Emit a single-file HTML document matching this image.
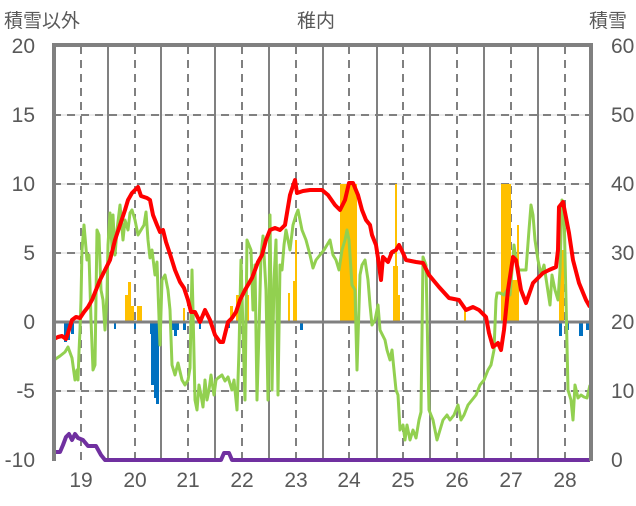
<!DOCTYPE html>
<html><head><meta charset="utf-8"><style>
body{margin:0;background:#fff;}
svg text{font-family:"Liberation Sans","Noto Sans CJK JP",sans-serif;fill:#595959;}
</style></head><body>
<svg width="636" height="501" viewBox="0 0 636 501" xmlns="http://www.w3.org/2000/svg">
<text x="4" y="27" font-size="19">積雪以外</text>
<text x="297" y="27" font-size="19">稚内</text>
<text x="589" y="27" font-size="19">積雪</text>
<g font-size="21" text-anchor="end">
<text x="35" y="53">20</text><text x="35" y="122">15</text><text x="35" y="191">10</text>
<text x="35" y="260">5</text><text x="35" y="329">0</text><text x="35" y="398">-5</text><text x="35" y="467">-10</text>
</g>
<g font-size="21" text-anchor="start">
<text x="611" y="53">60</text><text x="611" y="122">50</text><text x="611" y="191">40</text>
<text x="611" y="260">30</text><text x="611" y="329">20</text><text x="611" y="398">10</text><text x="611" y="467">0</text>
</g>
<g font-size="21" text-anchor="middle">
<text x="81" y="487">19</text><text x="135" y="487">20</text><text x="188" y="487">21</text><text x="242" y="487">22</text><text x="296" y="487">23</text>
<text x="349" y="487">24</text><text x="403" y="487">25</text><text x="457" y="487">26</text><text x="511" y="487">27</text><text x="565" y="487">28</text>
</g>
<g stroke="#d9d9d9" stroke-width="1">
<line x1="53" y1="115" x2="590" y2="115"/><line x1="53" y1="184" x2="590" y2="184"/><line x1="53" y1="253" x2="590" y2="253"/><line x1="53" y1="391" x2="590" y2="391"/>
</g>
<g stroke="#808080" stroke-width="2" stroke-dasharray="8,6">
<line x1="53" y1="115" x2="590" y2="115"/><line x1="53" y1="184" x2="590" y2="184"/><line x1="53" y1="253" x2="590" y2="253"/><line x1="53" y1="391" x2="590" y2="391"/>
<line x1="81" y1="46" x2="81" y2="460"/><line x1="135" y1="46" x2="135" y2="460"/><line x1="188" y1="46" x2="188" y2="460"/><line x1="242" y1="46" x2="242" y2="460"/><line x1="296" y1="46" x2="296" y2="460"/>
<line x1="349" y1="46" x2="349" y2="460"/><line x1="403" y1="46" x2="403" y2="460"/><line x1="457" y1="46" x2="457" y2="460"/><line x1="511" y1="46" x2="511" y2="460"/><line x1="565" y1="46" x2="565" y2="460"/>
</g>
<g stroke="#808080" stroke-width="2">
<line x1="108" y1="46" x2="108" y2="460"/><line x1="161" y1="46" x2="161" y2="460"/><line x1="215" y1="46" x2="215" y2="460"/><line x1="269" y1="46" x2="269" y2="460"/><line x1="323" y1="46" x2="323" y2="460"/>
<line x1="377" y1="46" x2="377" y2="460"/><line x1="430" y1="46" x2="430" y2="460"/><line x1="484" y1="46" x2="484" y2="460"/><line x1="538" y1="46" x2="538" y2="460"/>
</g>
<g fill="#ffc000">
<rect x="125" y="295" width="3" height="27"/><rect x="128" y="282" width="3" height="40"/><rect x="131" y="306" width="3" height="16"/>
<rect x="137" y="306" width="5" height="16"/><rect x="183" y="308" width="2" height="14"/>
<rect x="230" y="306" width="3" height="16"/><rect x="236" y="295" width="3" height="27"/><rect x="239" y="280" width="2" height="42"/><rect x="246" y="295" width="3" height="27"/>
<rect x="288" y="293" width="2" height="29"/><rect x="293" y="281" width="3" height="41"/><rect x="295" y="240" width="2" height="82"/>
<rect x="340" y="184" width="17" height="138"/><rect x="395" y="184" width="2" height="138"/><rect x="393" y="266" width="5" height="56"/><rect x="398" y="295" width="2" height="27"/>
<rect x="464" y="310" width="2" height="12"/>
<rect x="501" y="184" width="10" height="138"/><rect x="511" y="280" width="8" height="42"/><rect x="517" y="225" width="2" height="97"/>
<rect x="559" y="250" width="5" height="72"/>
</g>
<g fill="#0070c0">
<rect x="64" y="322" width="3" height="20"/><rect x="67" y="322" width="3" height="18"/><rect x="71" y="322" width="3" height="12"/><rect x="79" y="322" width="2" height="8"/>
<rect x="114" y="322" width="2" height="7"/><rect x="134" y="322" width="2" height="7"/>
<rect x="150" y="322" width="3" height="12"/><rect x="151" y="322" width="3" height="63"/><rect x="154" y="322" width="3" height="76"/><rect x="156" y="322" width="3" height="82"/><rect x="159" y="322" width="2" height="10"/>
<rect x="170" y="322" width="4" height="8"/><rect x="174" y="322" width="3" height="14"/><rect x="177" y="322" width="2" height="8"/><rect x="183" y="322" width="3" height="8"/>
<rect x="199" y="322" width="2" height="7"/><rect x="228" y="322" width="2" height="6"/><rect x="300" y="322" width="3" height="8"/>
<rect x="559" y="322" width="3" height="14"/><rect x="567" y="322" width="2" height="8"/><rect x="579" y="322" width="4" height="14"/><rect x="586" y="322" width="3" height="8"/>
</g>
<line x1="53" y1="322" x2="590" y2="322" stroke="#808080" stroke-width="3"/>
<polyline fill="none" stroke="#92d050" stroke-width="3" stroke-linejoin="round" points="54,360 60,356 65,352 68,347 72,358 75,380 77,370 78,380 79,352 80,330 81,300 82,250 84,225 87,260 89,255 91,320 93,370 95,365 97,230 99,235 101,290 103,300 105,330 107,295 108,245 110,213 112,248 113,215 115,255 117,230 120,205 123,240 125,220 128,230 130,213 132,210 135,220 138,235 141,230 144,225 146,212 148,240 150,258 152,250 155,275 157,262 160,345 162,280 165,275 168,290 170,310 172,365 175,375 178,363 182,380 185,385 188,380 190,368 192,270 193,310 195,400 197,410 199,385 201,395 203,407 205,380 207,400 209,390 211,375 214,395 216,380 218,378 222,375 225,381 228,377 232,390 234,380 237,410 239,350 241,260 243,330 245,400 247,240 249,245 251,250 253,310 255,265 257,400 259,330 261,255 263,236 266,290 268,400 270,215 272,390 274,280 276,240 278,395 280,265 282,270 284,245 286,230 290,250 293,225 296,215 298,210 300,220 302,230 306,240 310,255 313,268 316,260 320,255 324,250 330,240 333,255 336,260 339,270 342,250 345,240 347,230 349,240 352,285 355,290 357,370 360,275 362,265 365,260 368,280 370,305 372,325 375,320 378,305 380,330 385,340 387,350 390,360 392,350 394,370 396,390 398,395 400,430 403,425 405,440 407,425 410,440 413,430 416,438 419,420 421,412 423,257 426,265 429,410 433,420 437,440 440,430 443,420 447,415 450,420 454,415 458,405 461,420 464,415 468,405 472,400 476,395 480,385 484,380 488,370 491,365 494,350 496,300 497,293 500,293 504,295 507,290 510,295 514,245 516,260 519,270 523,270 526,270 529,230 531,205 533,215 535,240 538,260 541,275 544,265 547,285 550,305 552,275 555,290 558,300 560,270 562,200 564,210 566,300 568,390 571,400 573,420 575,385 578,398 581,395 584,397 587,398 590,385"/>
<polyline fill="none" stroke="#ff0000" stroke-width="4" stroke-linejoin="round" points="54,339 58,337 62,336 66,339 68,333 72,320 76,317 80,318 84,312 88,307 92,300 96,290 100,280 105,270 110,260 115,240 120,225 125,210 128,200 132,193 135,190 138,187 141,196 147,198 150,200 153,215 157,225 160,232 163,230 166,242 170,254 175,270 180,282 184,288 188,300 191,312 195,312 200,322 205,310 210,320 215,335 220,342 223,342 228,322 232,318 236,312 240,300 245,290 252,278 258,262 262,255 266,240 270,230 275,228 280,230 285,225 290,195 295,180 297,193 303,191 310,190 316,190 322,190 328,195 335,205 340,210 345,200 349,183 353,183 358,195 362,210 366,220 370,225 372,235 376,245 378,258 381,280 383,257 388,262 392,252 396,250 399,245 403,253 406,260 416,262 423,263 429,275 439,287 449,298 459,300 466,310 473,307 479,310 486,317 489,333 493,347 498,343 501,350 504,330 508,290 513,257 516,260 521,290 526,303 533,283 543,273 549,270 556,267 558,250 559,207 563,202 569,233 573,260 579,283 586,300 590,307"/>
<polyline fill="none" stroke="#7030a0" stroke-width="4" stroke-linejoin="round" points="54,452 60,452 63,445 66,437 69,434 72,440 75,434 78,438 83,440 88,446 96,446 101,455 105,460 221,460 224,453 229,453 232,460 590,460"/>
<path d="M54,461 V45 H591 V461" fill="none" stroke="#808080" stroke-width="4"/>
</svg>
</body></html>
